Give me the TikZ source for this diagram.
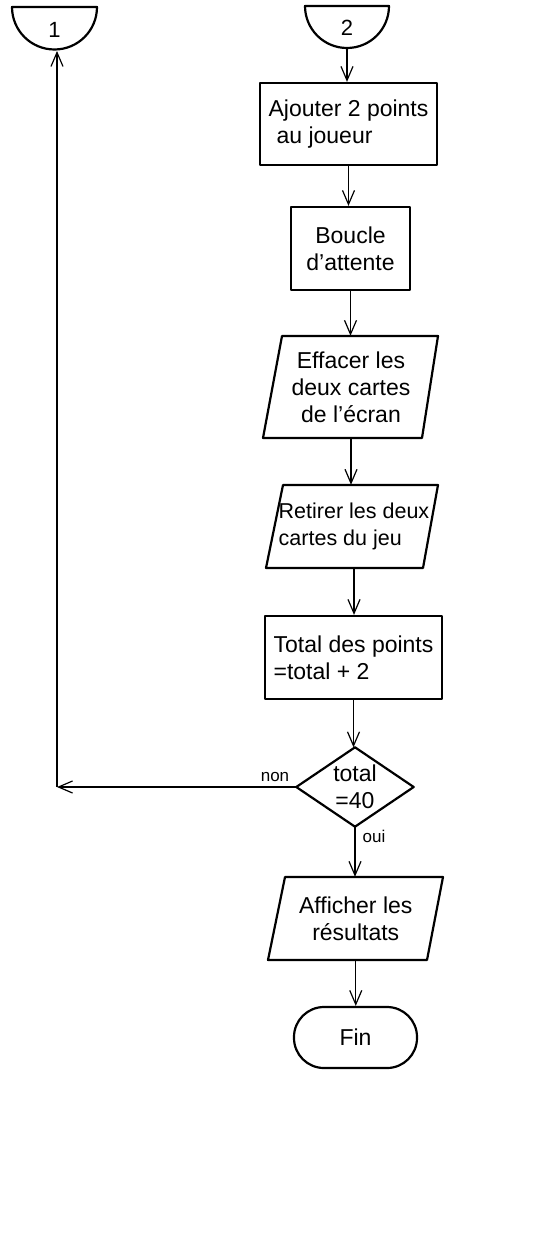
\documentclass[tikz,border=0pt]{standalone}
\usepackage{fontspec}
\setmainfont{Liberation Sans}
\usetikzlibrary{arrows.meta,calc}
\begin{document}
\begin{tikzpicture}[x=1pt,y=-1pt,
  shapeline/.style={line width=2.2pt, line join=round},
  arr/.style={line width=1.2pt,-{Straight Barb[length=14pt,width=12pt,line width=1.2pt]}},
  txt/.style={font=\fontsize{23}{27}\selectfont, inner sep=0pt},
  box/.style={txt, draw, shapeline},
  lbl/.style={font=\fontsize{17}{18}\selectfont, inner sep=0pt},
  conn/.style={font=\fontsize{22}{24}\selectfont, inner sep=0pt}]
\useasboundingbox[fill=white] (0,0) rectangle (549,1233);

% connectors
\node[conn, minimum width=85pt, minimum height=42.5pt] (c1) at (54.5,29.5) {1};
\draw[shapeline] (12,7) -- (97,7) .. controls (97,30.5) and (78,49.5) .. (54.5,49.5)
  .. controls (31,49.5) and (12,30.5) .. (12,7) -- cycle;
\node[conn, minimum width=84pt, minimum height=42pt] (c2) at (347,28) {2};
\draw[shapeline] (305,6) -- (389,6) .. controls (389,29.2) and (370.2,48) .. (347,48)
  .. controls (323.8,48) and (305,29.2) .. (305,6) -- cycle;

% boxes
\node[box, align=left, minimum width=177pt, minimum height=82pt] (b1) at (348.5,124)
  {Ajouter 2 points\\\hspace{8pt}au joueur};
\node[box, align=center, minimum width=119pt, minimum height=83pt] (b2) at (350.5,248.5)
  {Boucle\\d’attente};
\node[txt, align=center, minimum width=160pt, minimum height=102pt] (p1) at (351,387)
  {Effacer les\\deux cartes\\de l’écran};
\draw[shapeline] (282,336) -- (438,336) -- (422,438) -- (263,438) -- cycle;
\node[txt, font=\fontsize{21.5}{27}\selectfont, align=left, minimum width=155pt, minimum height=83pt] (p2) at (354,526.5)
  {Retirer les deux\\cartes du jeu};
\draw[shapeline] (283,485) -- (438,485) -- (423,568) -- (266,568) -- cycle;
\node[box, align=left, minimum width=177pt, minimum height=83pt] (b3) at (353.5,657.5)
  {Total des points\\=total + 2};
\node[txt, align=center, minimum width=117pt, minimum height=79pt] (d) at (355,787)
  {total\\=40};
\draw[shapeline] (d.north) -- (d.east) -- (d.south) -- (d.west) -- cycle;
\node[txt, align=center, minimum width=158pt, minimum height=83pt] (p3) at (355.75,918.5)
  {Afficher les\\résultats};
\draw[shapeline] (285,877) -- (443,877) -- (427,960) -- (268,960) -- cycle;
\node[box, rounded corners=30pt, minimum width=123pt, minimum height=61pt] (fin) at (355.5,1037.5) {Fin};

% arrows
\draw[arr] (c2.south) -- (c2.south |- b1.north);
\draw[arr] (b1.south) -- (b1.south |- b2.north);
\draw[arr] (b2.south) -- (b2.south |- p1.north);
\draw[arr] (p1.south) -- (p1.south |- p2.north);
\draw[arr] (p2.south) -- (p2.south |- b3.north);
\draw[arr] (b3.south) -- (b3.south |- d.north);
\draw[arr] (d.south) -- (d.south |- p3.north);
\draw[arr] (p3.south) -- (p3.south |- fin.north);
\coordinate (k) at (57,787);
\draw[arr] (d.west) -- (k);
\draw[arr] (k) -- (k |- c1.south);

% labels
\node[lbl] (non) at (275,777) {non};
\node[lbl] (oui) at (374,836) {oui};
\end{tikzpicture}
\end{document}
